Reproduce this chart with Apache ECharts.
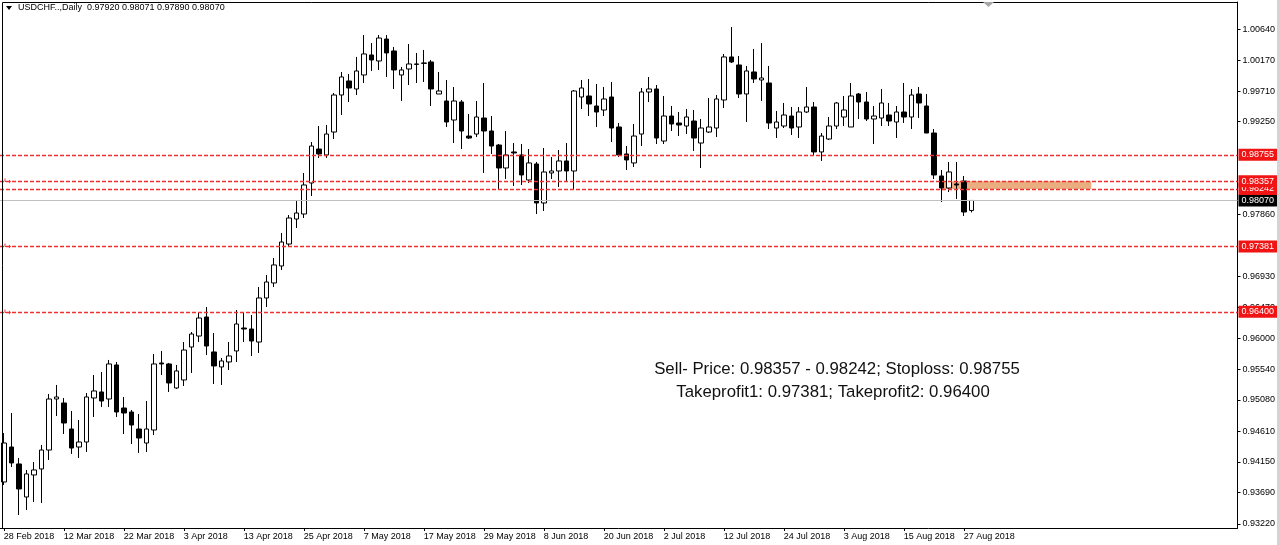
<!DOCTYPE html>
<html><head><meta charset="utf-8">
<script src="https://cdn.jsdelivr.net/npm/echarts@6/dist/echarts.min.js"></script>
<style>html,body{margin:0;padding:0;background:#fff}#c{width:1280px;height:545px}</style>
</head><body><div id="c"></div>
<script>
// ---- categories (trading days) ----
const monthDays = [
  ['Feb', [28]],
  ['Mar', [1,2,5,6,7,8,9,12,13,14,15,16,19,20,21,22,23,26,27,28,29,30]],
  ['Apr', [2,3,4,5,6,9,10,11,12,13,16,17,18,19,20,23,24,25,26,27,30]],
  ['May', [1,2,3,4,7,8,9,10,11,14,15,16,17,18,21,22,23,24,25,28,29,30,31]],
  ['Jun', [1,4,5,6,7,8,11,12,13,14,15,18,19,20,21,22,25,26,27,28,29]],
  ['Jul', [2,3,4,5,6,9,10,11,12,13,16,17,18,19,20,23,24,25,26,27,30,31]],
  ['Aug', [1,2,3,6,7,8,9,10,13,14,15,16,17,20,21,22,23,24,27,28]]
];
const categories = [];
monthDays.forEach(([m, days]) => days.forEach(d => categories.push(d + ' ' + m + ' 2018')));

// ---- OHLC values ----
const opens = [0.93850,0.94374,0.94120,0.93625,0.93955,0.94045,0.94329,0.95094,0.95034,0.94644,
0.94374,0.94449,0.95109,0.95199,0.95094,0.95604,0.94959,0.94899,0.94644,0.94434,
0.94629,0.95634,0.95619,0.95259,0.95379,0.95873,0.96038,0.96323,0.95799,0.95574,
0.95649,0.95814,0.96158,0.96143,0.95948,0.96608,0.96833,0.97088,0.97417,0.97792,
0.97867,0.98332,0.98841,0.98752,0.99096,0.99651,0.99861,0.99741,0.99951,1.00251,
1.00161,1.00490,1.00311,0.99951,1.00041,1.00116,1.00131,1.00146,0.99666,0.99561,
0.99276,0.99546,0.99036,0.99066,0.99306,0.99111,0.98901,0.98557,0.98797,0.98752,
0.98377,0.98617,0.98032,0.98482,0.98512,0.98662,0.98512,0.99621,0.99636,0.99486,
0.99426,0.99621,0.99171,0.98767,0.98632,0.99066,0.99696,0.99741,0.98961,0.99336,
0.99231,0.99186,0.99261,0.98931,0.99096,0.99156,0.99576,1.00221,1.00101,0.99666,
0.99996,0.99876,0.99831,0.99156,0.99186,0.99336,0.99171,0.99396,0.99471,0.98797,
0.98991,0.99186,0.99321,0.99171,0.99666,0.99546,0.99291,0.99306,0.99351,0.99246,
0.99396,0.99321,0.99666,0.99486,0.99081,0.98437,0.98257,0.98317,0.98362,0.97920];
const closes = [0.94434,0.94135,0.93745,0.93970,0.94030,0.94329,0.95094,0.95124,0.94734,0.94359,
0.94449,0.95124,0.95214,0.95064,0.95619,0.94899,0.94884,0.94704,0.94509,0.94644,
0.95619,0.95619,0.95334,0.95514,0.95828,0.96068,0.96308,0.95888,0.95589,0.95664,
0.95739,0.96218,0.96143,0.95963,0.96608,0.96848,0.97103,0.97447,0.97807,0.97882,
0.98302,0.98886,0.98767,0.99066,0.99651,0.99921,0.99756,1.00011,1.00266,1.00176,
1.00505,1.00281,1.00026,1.00026,1.00116,1.00110,1.00125,0.99741,0.99711,0.99246,
0.99561,0.99111,0.99006,0.99321,0.99111,0.98886,0.98557,0.98752,0.98782,0.98452,
0.98632,0.98032,0.98497,0.98512,0.98662,0.98512,0.99711,0.99756,0.99516,0.99396,
0.99591,0.99156,0.98752,0.98677,0.99036,0.99696,0.99741,0.99006,0.99336,0.99216,
0.99201,0.99321,0.99006,0.99156,0.99171,0.99591,1.00221,1.00146,0.99666,1.00011,
0.99891,0.99906,0.99231,0.99246,0.99351,0.99156,0.99396,0.99471,0.98797,0.99036,
0.99186,0.99531,0.99426,0.99636,0.99546,0.99291,0.99336,0.99531,0.99261,0.99396,
0.99321,0.99651,0.99531,0.99081,0.98452,0.98257,0.98497,0.98302,0.97897,0.98070];
const lows = [0.93805,0.94075,0.93355,0.93430,0.93550,0.93535,0.94180,0.94839,0.94569,0.94270,
0.94210,0.94300,0.94824,0.94974,0.94974,0.94824,0.94569,0.94419,0.94285,0.94300,
0.94554,0.95454,0.95199,0.95244,0.95289,0.95484,0.95948,0.95754,0.95319,0.95304,
0.95529,0.95649,0.95948,0.95739,0.95784,0.96473,0.96773,0.97028,0.97387,0.97657,
0.97807,0.98137,0.98707,0.98707,0.98991,0.99351,0.99546,0.99651,0.99831,1.00011,
1.00026,0.99921,0.99741,0.99561,0.99801,0.99831,0.99846,0.99486,0.99666,0.99171,
0.98931,0.98841,0.98991,0.99021,0.98482,0.98767,0.98227,0.98392,0.98287,0.98302,
0.98332,0.97867,0.97912,0.98392,0.98272,0.98362,0.98242,0.99441,0.99336,0.99171,
0.99336,0.98946,0.98722,0.98527,0.98572,0.98886,0.99546,0.98916,0.98916,0.99111,
0.99036,0.99066,0.98812,0.98557,0.99081,0.99021,0.99456,1.00131,0.99606,0.99246,
0.99831,0.99561,0.99141,0.99006,0.99156,0.99051,0.99006,0.99381,0.98752,0.98662,
0.98976,0.99141,0.99186,0.99171,0.99291,0.99261,0.98916,0.99186,0.99186,0.99006,
0.99231,0.99141,0.99306,0.99081,0.98392,0.98047,0.98197,0.98092,0.97837,0.97890];
const highs = [0.94584,0.94884,0.94210,0.94030,0.94150,0.94404,0.95169,0.95304,0.95109,0.94914,
0.94779,0.95184,0.95454,0.95499,0.95679,0.95649,0.95124,0.94929,0.94869,0.95064,
0.95769,0.95814,0.95634,0.95604,0.95948,0.96098,0.96383,0.96473,0.96083,0.95709,
0.95948,0.96428,0.96383,0.96353,0.96773,0.96953,0.97208,0.97582,0.97852,0.98077,
0.98482,0.98946,0.99186,0.99201,0.99681,0.99996,0.99966,1.00221,1.00550,1.00430,
1.00550,1.00550,1.00371,1.00071,1.00415,1.00281,1.00326,1.00176,0.99996,0.99876,
0.99771,0.99576,0.99366,0.99561,0.99831,0.99336,0.98916,0.99111,0.98931,0.98916,
0.98841,0.98647,0.98856,0.98722,0.98826,0.98931,0.99726,0.99876,0.99891,0.99816,
0.99771,0.99846,0.99231,0.98886,0.99216,0.99756,0.99921,0.99801,0.99636,0.99486,
0.99396,0.99441,0.99426,0.99291,0.99606,0.99651,1.00266,1.00670,1.00236,1.00086,
1.00341,1.00430,1.00086,0.99411,0.99531,0.99471,0.99471,0.99771,0.99546,0.99081,
0.99321,0.99546,0.99636,0.99831,0.99681,0.99696,0.99486,0.99741,0.99531,0.99486,
0.99831,0.99741,0.99771,0.99666,0.99141,0.98527,0.98647,0.98647,0.98437,0.98071];

// ---- levels / ticks / texts ----
const levelValues = [0.96400, 0.97381, 0.98242, 0.98357, 0.98755];
const arrowLevels = [0.98357, 0.97381, 0.96400];
const currentPrice = 0.98070;
const sellZone = [0.98242, 0.98357];
const sellZoneBars = [125, 145];
const yTicks = [1.00640,1.00170,0.99710,0.99250,0.97860,0.96930,0.96470,0.96000,0.95540,0.95080,0.94610,0.94150,0.93690,0.93220];
const futureBars = 35;
const headerText = 'USDCHF..,Daily  0.97920 0.98071 0.97890 0.98070';
const noteLines = ['Sell- Price: 0.98357 - 0.98242; Stoploss: 0.98755', 'Takeprofit1: 0.97381; Takeprofit2: 0.96400'];

const FONT = '"Liberation Sans", Arial, sans-serif';
const RED = '#ee3030';
const xData = categories.slice();
for (let i = 0; i < futureBars; i++) xData.push('_f' + i);
const ohlc = opens.map((o, i) => [o, closes[i], lows[i], highs[i]]);

function levelSeries(value, lineColor, dash, width, boxColor, z) {
  return {
    type: 'line', data: [], z: z, silent: true, color: lineColor,
    markLine: {
      silent: true, symbol: 'none', animation: false, precision: 5,
      lineStyle: { color: lineColor, type: dash, width: width, opacity: 1 },
      label: { show: true, position: 'end', distance: 1, formatter: p => Number(p.value).toFixed(5),
        color: '#fff', backgroundColor: boxColor, padding: [2, 3, 1, 3], fontSize: 9, fontFamily: FONT },
      emphasis: { disabled: true },
      data: [{ yAxis: value }]
    }
  };
}

const series = [
  {
    type: 'line', data: [], z: 1, silent: true,
    markArea: {
      silent: true,
      itemStyle: { color: '#e9ad80', opacity: 1 },
      data: [[{ xAxis: sellZoneBars[0], yAxis: sellZone[1] }, { xAxis: sellZoneBars[1], yAxis: sellZone[0] }]]
    }
  },
  levelSeries(currentPrice, '#c0c0c0', 'solid', 1, '#000', 2)
];
levelValues.forEach(v => series.push(levelSeries(v, RED, [4, 2], 1.3, '#f01414', 2)));
series.push({
  type: 'candlestick', data: ohlc, z: 3, barWidth: 5,
  itemStyle: { color: '#ffffff', color0: '#000000', borderColor: '#000000', borderColor0: '#000000', borderWidth: 1 }
});

const chart = echarts.init(document.getElementById('c'));
chart.setOption({
  animation: false,
  backgroundColor: '#ffffff',
  grid: { left: 0, right: 42.5, top: 2, bottom: 17, containLabel: false },
  xAxis: {
    type: 'category', data: xData, boundaryGap: true,
    axisLine: { show: true, lineStyle: { color: '#000', width: 1 } },
    axisTick: { show: true, alignWithLabel: true, length: 3, lineStyle: { color: '#000' },
      interval: (idx, val) => idx % 8 === 0 && !String(val).startsWith('_f') },
    axisLabel: { interval: 7, align: 'left', margin: 4, fontSize: 9, color: '#000', fontFamily: FONT,
      formatter: v => String(v).startsWith('_f') ? '' : v },
    splitLine: { show: false }
  },
  yAxis: {
    type: 'value', position: 'right', min: 0.93160, max: 1.01045,
    splitLine: { show: false },
    axisLine: { show: true, lineStyle: { color: '#000', width: 1 } },
    axisTick: { show: true, customValues: yTicks, length: 3, lineStyle: { color: '#000' } },
    axisLabel: { customValues: yTicks, formatter: v => v.toFixed(5), fontSize: 9, color: '#000', margin: 5, fontFamily: FONT }
  },
  series: series
});

const gfx = [
  { type: 'line', shape: { x1: 2.5, y1: 2.5, x2: 1237.5, y2: 2.5 }, style: { stroke: '#000', lineWidth: 1 }, z: 10 },
  { type: 'line', shape: { x1: 2.5, y1: 2.5, x2: 2.5, y2: 528 }, style: { stroke: '#000', lineWidth: 1 }, z: 10 },
  { type: 'rect', shape: { x: 1277, y: 0, width: 3, height: 545 }, style: { fill: '#d4d4d4' }, z: 10 },
  { type: 'polygon', shape: { points: [[6, 6], [12, 6], [9, 10]] }, style: { fill: '#000' }, z: 10 },
  { type: 'polygon', shape: { points: [[983, 2], [994, 2], [988.5, 7]] }, style: { fill: '#a8a8a8' }, z: 10 },
  { type: 'text', x: 18, y: 8, style: { text: headerText, font: '9px ' + FONT, fill: '#000', align: 'left', verticalAlign: 'middle' }, z: 10 },
  { type: 'text', x: 837, y: 369, style: { text: noteLines[0], font: '16.8px ' + FONT, fill: '#111', align: 'center', verticalAlign: 'middle' }, z: 10 },
  { type: 'text', x: 833, y: 392, style: { text: noteLines[1], font: '16.8px ' + FONT, fill: '#111', align: 'center', verticalAlign: 'middle' }, z: 10 }
];
arrowLevels.forEach(v => {
  const y = Math.round(chart.convertToPixel({ yAxisIndex: 0 }, v)) + 0.5;
  gfx.push({ type: 'polyline', shape: { points: [[5, y - 3], [5, y], [10, y]] }, style: { stroke: RED, lineWidth: 1, fill: null }, z: 10 });
  gfx.push({ type: 'polygon', shape: { points: [[9, y - 2], [11, y], [9, y + 2]] }, style: { fill: RED }, z: 10 });
});
chart.setOption({ graphic: gfx });
</script></body></html>
